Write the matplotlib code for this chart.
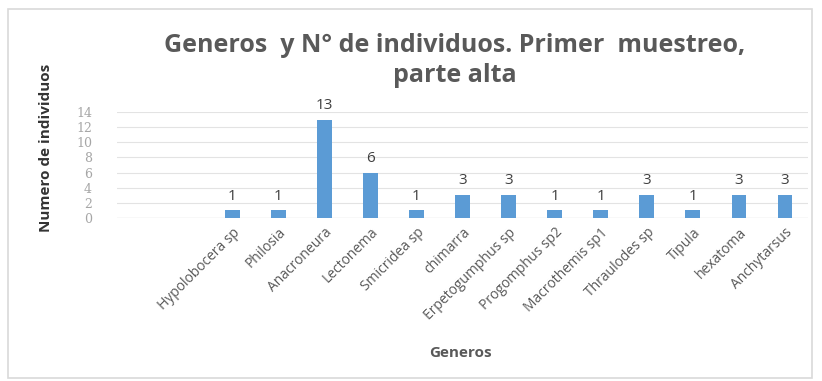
import matplotlib
matplotlib.use("Agg")
import matplotlib.pyplot as plt
from matplotlib.patches import Rectangle

# data (two empty slots at the start)
generos = ["", "", "Hypolobocera sp", "Philosia", "Anacroneura", "Lectonema",
           "Smicridea sp", "chimarra", "Erpetogumphus sp", "Progomphus sp2",
           "Macrothemis sp1", "Thraulodes sp", "Tipula", "hexatoma", "Anchytarsus"]
individuos = [None, None, 1, 1, 13, 6, 1, 3, 3, 1, 1, 3, 1, 3, 3]
yticks = [0, 2, 4, 6, 8, 10, 12, 14]

plt.rcParams['font.family'] = ['Open Sans', 'DejaVu Sans']
gray = "#595959"

fig = plt.figure(figsize=(8.22, 3.81), dpi=100)
fig.patches.append(Rectangle((8 / 822, 3 / 381), 804 / 822, 369 / 381,
                             transform=fig.transFigure, fill=False,
                             edgecolor="#d9d9d9", lw=1.2))

ax = fig.add_axes([117 / 822, 1 - 218 / 381, 691 / 822, 106 / 381])
x = list(range(len(generos)))
for i, v in enumerate(individuos):
    if v is None:
        continue
    ax.bar(i, v, width=0.32, color="#5B9BD5", zorder=3)
    ax.text(i, v + 0.9, str(v), ha="center", va="bottom", fontsize=11,
            color="#404040")

ax.set_xlim(-0.5, len(generos) - 0.5)
ax.set_ylim(0, 14)
ax.set_yticks(yticks)
ax.set_yticklabels([str(t) for t in yticks], fontsize=9, color="#a6a6a6",
                   family="DejaVu Serif")
ax.set_xticks(x)
ax.set_xticklabels(generos, rotation=45, ha="right", rotation_mode="anchor",
                   fontsize=10, color=gray)
ax.tick_params(axis="x", length=0, pad=5)
ax.tick_params(axis="y", length=0, pad=18)
ax.grid(axis="y", color="#e3e3e3", lw=0.8, zorder=0)
for s in ax.spines.values():
    s.set_visible(False)
ax.axhline(0, color="#d9d9d9", lw=0.9, zorder=2)

fig.text(0.553, 1 - 45 / 381, "Generos  y N° de individuos. Primer  muestreo,",
         ha="center", va="center", fontsize=18, fontweight="bold", color=gray)
fig.text(0.553, 1 - 76 / 381, "parte alta", ha="center", va="center",
         fontsize=18, fontweight="bold", color=gray)
fig.text(46 / 822, 1 - 148 / 381, "Numero de individuos", rotation=90,
         ha="center", va="center", fontsize=11, fontweight="bold",
         color="#333333")
fig.text(460 / 822, 1 - 353 / 381, "Generos", ha="center", va="center",
         fontsize=11, fontweight="bold", color=gray)

fig.savefig("out.png", dpi=100)
